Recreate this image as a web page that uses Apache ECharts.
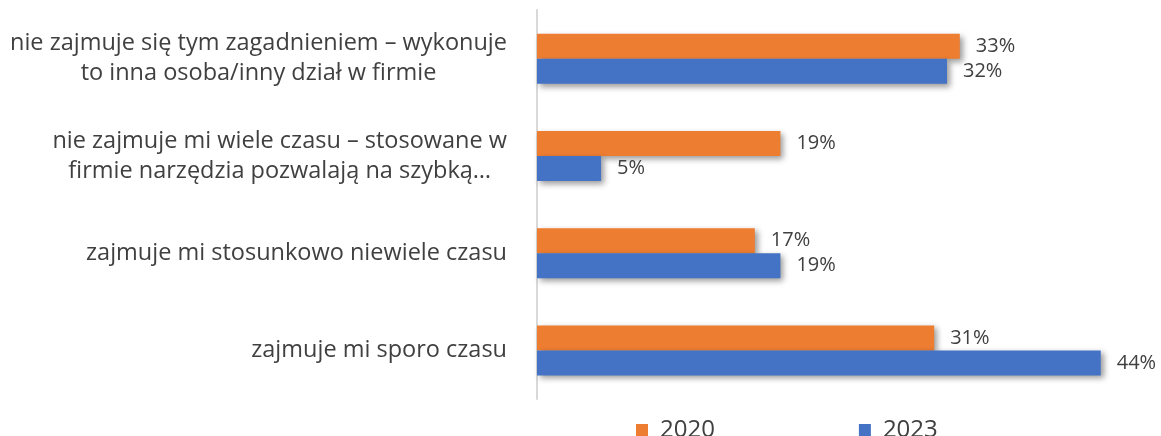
<!DOCTYPE html>
<html lang="pl">

<head>
    <meta charset="UTF-8">
    <title>Wykres</title>
    <script src="https://cdnjs.cloudflare.com/ajax/libs/echarts/6.0.0/echarts.min.js"></script>
    <style>
        body { margin: 0; background: #fff; }
    </style>
</head>

<body>
    <div id="main" style="width: 1161px;height:436px;"></div>

    <script>
        const categories = [
            'nie zajmuje się tym zagadnieniem – wykonuje\nto inna osoba/inny dział w firmie',
            'nie zajmuje mi wiele czasu – stosowane w\nfirmie narzędzia pozwalają na szybką…',
            'zajmuje mi stosunkowo niewiele czasu',
            'zajmuje mi sporo czasu'
        ];
        const seriesNames = ['2020', '2023'];
        const values2020 = [33, 19, 17, 31];
        const values2023 = [32, 5, 19, 44];

        const myChart = echarts.init(document.getElementById('main'));
        const font = "'Open Sans', sans-serif";

        function barSeries(name, color, data) {
            return {
                name: name,
                type: 'bar',
                data: data,
                barWidth: 25,
                barGap: '0%',
                itemStyle: {
                    color: color,
                    shadowBlur: 6,
                    shadowOffsetX: 3,
                    shadowOffsetY: 3,
                    shadowColor: 'rgba(0,0,0,0.4)'
                },
                label: {
                    show: true,
                    position: 'right',
                    distance: 16,
                    formatter: '{c}%',
                    color: '#404040',
                    fontFamily: font,
                    fontSize: 20
                }
            };
        }

        let option = {
            animation: false,
            grid: { left: 537, right: 9, top: 10, bottom: 37 },
            legend: {
                data: seriesNames,
                left: 631,
                top: 413,
                icon: 'rect',
                itemWidth: 12,
                itemHeight: 12,
                itemGap: 144,
                textStyle: { color: '#404040', fontFamily: font, fontSize: 24, padding: [0, 0, 0, 7] }
            },
            xAxis: {
                type: 'value',
                min: 0,
                max: 48,
                show: false
            },
            yAxis: {
                type: 'category',
                data: categories,
                inverse: true,
                axisLine: { lineStyle: { color: '#d9d9d9', width: 2 } },
                axisTick: { show: false },
                axisLabel: {
                    margin: 30,
                    formatter: (v) => v.split('\n').map(s => '{c|' + s + '}').join('\n'),
                    rich: {
                        c: {
                            align: 'center',
                            color: '#404040',
                            fontFamily: font,
                            fontSize: 23.5,
                            lineHeight: 30
                        }
                    }
                }
            },
            series: [
                barSeries(seriesNames[0], '#ED7D31', values2020),
                barSeries(seriesNames[1], '#4472C4', values2023)
            ]
        };

        myChart.setOption(option);
    </script>
</body>

</html>
